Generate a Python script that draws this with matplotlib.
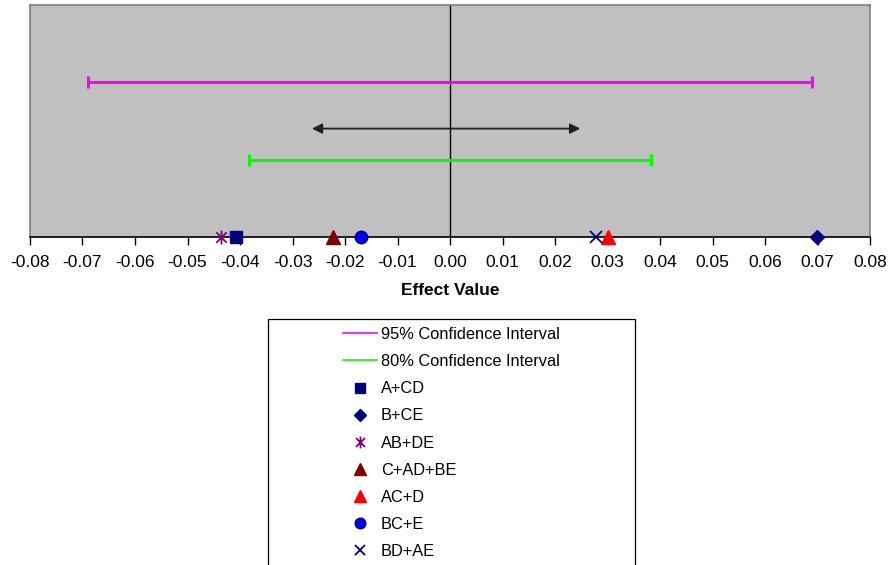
import matplotlib
matplotlib.use("Agg")
import matplotlib.pyplot as plt
from matplotlib.lines import Line2D
from matplotlib.path import Path
from matplotlib.patches import Rectangle

plt.rcParams['font.family'] = ['Liberation Sans', 'DejaVu Sans']
plt.rcParams['axes.unicode_minus'] = False

# Effect estimates
effect_names = ["A+CD", "B+CE", "AB+DE", "C+AD+BE", "AC+D", "BC+E", "BD+AE"]
effect_values = [-0.0408, 0.0699, -0.0436, -0.0223, 0.0301, -0.0170, 0.0278]

# Confidence intervals (half-widths) and their row heights
ci_labels = ["95% Confidence Interval", "80% Confidence Interval"]
ci_half_widths = [0.069, 0.0383]
ci_levels = [2.0, 1.0]

# Double-headed arrow span
arrow_span = [-0.0263, 0.0248]
arrow_level = 1.4

x_ticks = [round(-0.08 + 0.01 * i, 2) for i in range(17)]

# Excel-style asterisk: vertical stroke plus an X
star_path = Path(
    [(0, -1), (0, 1), (-0.75, -0.75), (0.75, 0.75), (-0.75, 0.75), (0.75, -0.75)],
    [Path.MOVETO, Path.LINETO, Path.MOVETO, Path.LINETO, Path.MOVETO, Path.LINETO],
)

marker_styles = [
    dict(marker="s", mfc="#000080", mec="#000080", ms=9),
    dict(marker="D", mfc="#000080", mec="#000080", ms=7.5),
    dict(marker=star_path, mfc="none", mec="#800080", ms=10, mew=1.3),
    dict(marker="^", mfc="#800000", mec="#800000", ms=9.5),
    dict(marker="^", mfc="#FF0000", mec="#FF0000", ms=9.5),
    dict(marker="o", mfc="#0000EE", mec="#000080", ms=9),
    dict(marker="x", mfc="none", mec="#000080", ms=9, mew=1.3),
]
ci_colors = ["#FF00FF", "#00FF00"]

fig = plt.figure(figsize=(8.89, 5.65), dpi=100)
ax = fig.add_axes([30 / 889, 1 - 237 / 565, 840 / 889, 232.3 / 565])
ax.set_facecolor("#C0C0C0")

ax.set_xlim(-0.08, 0.08)
ax.set_ylim(0, 3)

ax.axvline(0, color="black", lw=1, zorder=2)

for hw, lvl, col in zip(ci_half_widths, ci_levels, ci_colors):
    ax.errorbar([0], [lvl], xerr=[[hw], [hw]], fmt="none", ecolor=col,
                elinewidth=2.2, capsize=4, capthick=2.2, zorder=3)

ax.annotate("", xy=(arrow_span[1], arrow_level), xytext=(arrow_span[0], arrow_level),
            arrowprops=dict(arrowstyle="<|-|>", color="#202020", lw=1.3,
                            mutation_scale=15, shrinkA=0, shrinkB=0), zorder=3)

for val, st in zip(effect_values, marker_styles):
    ax.plot([val], [0], linestyle="none", clip_on=False, zorder=5, **st)

ax.set_xticks(x_ticks)
ax.set_xticklabels([f"{t:.2f}" for t in x_ticks], fontsize=12.5)
ax.set_yticks([])
ax.tick_params(axis="x", direction="out", length=6, width=1, pad=7, colors="black")
ax.set_xlabel("Effect Value", fontsize=12.5, fontweight="bold", labelpad=9)

for side in ("left", "top", "right"):
    ax.spines[side].set_color("#808080")
    ax.spines[side].set_linewidth(1.2)
ax.spines["bottom"].set_color("black")
ax.spines["bottom"].set_linewidth(1.2)
ax.spines["bottom"].set_zorder(4)

# Legend
handles = [Line2D([], [], color=c, lw=1.2) for c in ci_colors]
labels = list(ci_labels)
for name, st in zip(effect_names, marker_styles):
    leg_st = dict(st)
    leg_st["ms"] = st["ms"] * 0.85
    handles.append(Line2D([], [], linestyle="none", **leg_st))
    labels.append(name)

box = Rectangle((268 / 889, -0.2), (635 - 268) / 889, 0.2 + (1 - 319 / 565),
                transform=fig.transFigure, facecolor="white", edgecolor="black",
                lw=0.9, zorder=0)
fig.patches.append(box)

leg = fig.legend(handles, labels, loc="upper left",
                 bbox_to_anchor=(343 / 889, 1 - 327 / 565),
                 frameon=False, fontsize=11.8, handlelength=2.1,
                 handletextpad=0.2, labelspacing=0.74, borderpad=0,
                 borderaxespad=0)

fig.savefig("out.png", dpi=100)
